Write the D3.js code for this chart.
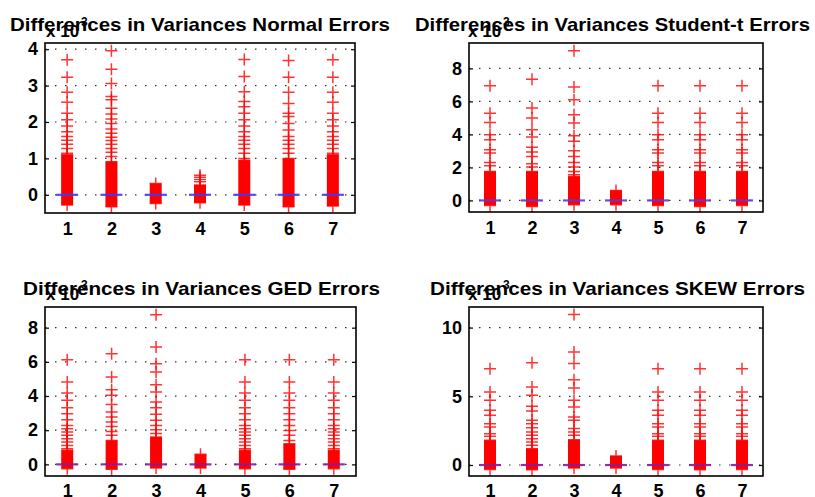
<!DOCTYPE html>
<html>
<head>
<meta charset="utf-8">
<script src="https://cdn.jsdelivr.net/npm/d3@7/dist/d3.min.js"></script>
<style>
body { margin: 0; background: #fff; }
text { font-family: "Liberation Sans", Arial, sans-serif; font-weight: bold; }
</style>
</head>
<body>
<script>

var width = 815,
    height = 497;

// ---- data ----
var groups = [1, 2, 3, 4, 5, 6, 7];

var titles = [
  "Differences in Variances Normal Errors",
  "Differences in Variances Student-t Errors",
  "Differences in Variances GED Errors",
  "Differences in Variances SKEW Errors"
];

var yTicks = [[0, 1, 2, 3, 4], [0, 2, 4, 6, 8], [0, 2, 4, 6, 8], [0, 5, 10]];
var yDomains = [[-0.5, 4.17], [-0.7, 9.54], [-0.68, 9.21], [-0.8, 11.5]];

var medians = [
  [0, 0, 0, 0, 0, 0, 0],
  [0, 0, 0, 0, 0, 0, 0],
  [0, 0, 0, 0, 0, 0, 0],
  [0, 0, 0, 0, 0, 0, 0]
];

// solid part where the + markers pile up (low, high)
var denseLow = [
  [-0.28, -0.33, -0.24, -0.22, -0.28, -0.33, -0.31],
  [-0.30, -0.36, -0.26, -0.26, -0.30, -0.36, -0.30],
  [-0.25, -0.29, -0.21, -0.21, -0.25, -0.29, -0.25],
  [-0.32, -0.34, -0.22, -0.22, -0.32, -0.34, -0.32]
];
var denseHigh = [
  [1.10, 0.91, 0.31, 0.27, 0.95, 1.00, 1.10],
  [1.76, 1.76, 1.45, 0.61, 1.76, 1.76, 1.76],
  [0.82, 1.40, 1.60, 0.59, 0.82, 1.20, 0.82],
  [1.80, 1.19, 1.84, 0.66, 1.80, 1.80, 1.80]
];

// single outliers above the solid part
var outliersNormal = [
  [3.71, 3.23, 2.82, 2.54, 2.24, 2.06, 1.89, 1.73, 1.60, 1.50, 1.39, 1.27, 1.14],
  [3.96, 3.45, 3.06, 2.70, 2.61, 2.38, 2.22, 2.08, 1.96, 1.81, 1.69, 1.58, 1.49, 1.39, 1.27, 1.17, 1.05],
  [],
  [0.54, 0.48, 0.42, 0.36],
  [3.72, 3.25, 2.83, 2.56, 2.42, 2.24, 2.06, 1.89, 1.73, 1.60, 1.50, 1.39, 1.27, 1.14, 1.00],
  [3.69, 3.23, 2.82, 2.51, 2.24, 2.15, 1.96, 1.78, 1.60, 1.50, 1.39, 1.27, 1.14],
  [3.71, 3.23, 2.82, 2.54, 2.24, 2.06, 1.89, 1.73, 1.60, 1.50, 1.39, 1.27, 1.14]
];
var outliersStudent = [
  [6.95, 5.29, 4.73, 3.98, 3.68, 3.07, 2.87, 2.30, 2.10],
  [7.35, 5.60, 4.99, 4.28, 3.84, 3.23, 2.93, 2.67, 2.22, 2.02],
  [9.07, 6.87, 6.10, 5.19, 4.69, 3.92, 3.58, 3.01, 2.67, 2.30, 2.02, 1.76, 1.56],
  [],
  [6.95, 5.29, 4.73, 3.98, 3.68, 3.07, 2.87, 2.30, 2.10],
  [6.95, 5.29, 4.73, 3.98, 3.68, 3.07, 2.87, 2.30, 2.10],
  [6.95, 5.29, 4.73, 3.98, 3.68, 3.07, 2.87, 2.30, 2.10]
];
var outliersGed = [
  [6.13, 4.82, 4.18, 3.75, 3.32, 2.97, 2.61, 2.28, 2.09, 1.89, 1.70, 1.50, 1.31, 1.11, 0.92],
  [6.48, 5.11, 4.37, 4.04, 3.51, 3.06, 2.77, 2.48, 2.22, 1.93, 1.70],
  [8.76, 6.87, 5.89, 5.40, 4.66, 4.23, 3.65, 3.32, 2.93, 2.58, 2.28, 2.03, 1.80],
  [],
  [6.13, 4.82, 4.18, 3.75, 3.32, 2.97, 2.61, 2.28, 2.09, 1.89, 1.70, 1.50, 1.31, 1.11, 0.92],
  [6.13, 4.82, 4.18, 3.75, 3.32, 2.97, 2.61, 2.28, 1.99, 1.70, 1.40],
  [6.13, 4.82, 4.18, 3.75, 3.32, 2.97, 2.61, 2.28, 2.09, 1.89, 1.70, 1.50, 1.31, 1.11, 0.92]
];
var outliersSkew = [
  [7.01, 5.32, 4.71, 3.98, 3.62, 3.01, 2.77, 2.28, 2.09],
  [7.45, 5.68, 5.07, 4.27, 3.93, 3.25, 3.01, 2.72, 2.40, 2.16, 1.92, 1.67, 1.43],
  [10.95, 8.23, 7.38, 6.21, 5.61, 4.71, 4.22, 3.50, 3.25, 2.65, 2.40, 2.16],
  [],
  [7.01, 5.32, 4.71, 3.98, 3.62, 3.01, 2.77, 2.28, 2.09],
  [7.01, 5.32, 4.71, 3.98, 3.62, 3.01, 2.77, 2.28, 2.09],
  [7.01, 5.32, 4.71, 3.98, 3.62, 3.01, 2.77, 2.28, 2.09]
];
var outliers = [outliersNormal, outliersStudent, outliersGed, outliersSkew];

// ---- layout ----
var panels = [
  {x0: 45,  x1: 355, y0: 43,  y1: 213, tx0: 10,  tx1: 390, ty: 31,  ex: 46,  ey: 37,  pad: 9},
  {x0: 469, x1: 763, y0: 43,  y1: 212, tx0: 415, tx1: 810, ty: 31,  ex: 468, ey: 37,  pad: 9},
  {x0: 45,  x1: 356, y0: 307, y1: 476, tx0: 23,  tx1: 380, ty: 295, ex: 46,  ey: 300, pad: 8},
  {x0: 469, x1: 763, y0: 307, y1: 476, tx0: 430, tx1: 805, ty: 295, ex: 468, ey: 300, pad: 8}
];
var medianColors = ["#3a3aff", "#5a3ae0", "#8a1a9a", "#8a1a9a"];

var svg = d3.select("body").append("svg")
    .attr("width", width)
    .attr("height", height);

svg.append("rect").attr("width", width).attr("height", height).attr("fill", "#fff");

var plus = "M-6,0H6M0,-6V6";

panels.forEach(function(p, i) {
  var x = d3.scaleLinear().domain([0.5, 7.5]).range([p.x0, p.x1]);
  var y = d3.scaleLinear().domain(yDomains[i]).range([p.y1, p.y0]);
  var g = svg.append("g");

  // dotted grid
  g.selectAll(".grid").data(yTicks[i]).enter().append("line")
    .attr("x1", p.x0).attr("x2", p.x1)
    .attr("y1", function(d) { return y(d); })
    .attr("y2", function(d) { return y(d); })
    .attr("stroke", "#333")
    .attr("stroke-width", 1.2)
    .attr("stroke-dasharray", "1.5,8.5");

  // solid piles of outliers
  g.selectAll(".dense").data(groups).enter().append("rect")
    .attr("x", function(d) { return x(d) - 6; })
    .attr("width", 12)
    .attr("y", function(d, j) { return y(denseHigh[i][j]); })
    .attr("height", function(d, j) { return y(denseLow[i][j]) - y(denseHigh[i][j]); })
    .attr("fill", "#ff0000");

  // + markers: ends of the piles and single outliers
  groups.forEach(function(gr, j) {
    var vals = outliers[i][j].concat([denseLow[i][j], denseHigh[i][j]]);
    g.selectAll(".m" + j).data(vals).enter().append("path")
      .attr("d", plus)
      .attr("transform", function(v) { return "translate(" + x(gr) + "," + y(v) + ")"; })
      .attr("fill", "none")
      .attr("stroke", "#ff0000")
      .attr("stroke-opacity", 0.8)
      .attr("stroke-width", 1.5);
  });

  // medians
  g.selectAll(".med").data(groups).enter().append("line")
    .attr("x1", function(d) { return x(d) - 11; })
    .attr("x2", function(d) { return x(d) + 11; })
    .attr("y1", function(d, j) { return y(medians[i][j]); })
    .attr("y2", function(d, j) { return y(medians[i][j]); })
    .attr("stroke", medianColors[i])
    .attr("stroke-opacity", 0.9)
    .attr("stroke-width", 2.2);

  // axes
  var left = d3.axisLeft(y).tickValues(yTicks[i]).tickFormat(d3.format("d")).tickSize(-4).tickPadding(7);
  var right = d3.axisRight(y).tickValues(yTicks[i]).tickSize(-4).tickFormat("");
  var bottom = d3.axisBottom(x).tickValues(groups).tickFormat(d3.format("d")).tickSize(0).tickPadding(p.pad);

  var ax = [
    g.append("g").attr("transform", "translate(" + p.x0 + ",0)").call(left),
    g.append("g").attr("transform", "translate(" + p.x1 + ",0)").call(right),
    g.append("g").attr("transform", "translate(0," + p.y1 + ")").call(bottom)
  ];
  ax.forEach(function(a) {
    a.select(".domain").remove();
    a.selectAll("line").attr("stroke", "#000").attr("stroke-width", 1.2);
    a.selectAll("text").attr("fill", "#000").style("font-size", "18px")
      .style("font-family", "'Liberation Sans', Arial, sans-serif").style("font-weight", "bold");
  });

  // frame
  g.append("rect")
    .attr("x", p.x0).attr("y", p.y0)
    .attr("width", p.x1 - p.x0).attr("height", p.y1 - p.y0)
    .attr("fill", "none")
    .attr("stroke", "#000")
    .attr("stroke-width", 1.6);

  // exponent label
  var e = g.append("text").attr("x", p.ex).attr("y", p.ey).style("font-size", "17px");
  e.append("tspan").text("x 10");
  e.append("tspan").attr("dx", 2).attr("dy", -11).style("font-size", "12px").text("3");

  // title
  g.append("text")
    .attr("x", p.tx0).attr("y", p.ty)
    .attr("textLength", p.tx1 - p.tx0)
    .attr("lengthAdjust", "spacingAndGlyphs")
    .style("font-size", "19px")
    .text(titles[i]);
});

</script>
</body>
</html>
